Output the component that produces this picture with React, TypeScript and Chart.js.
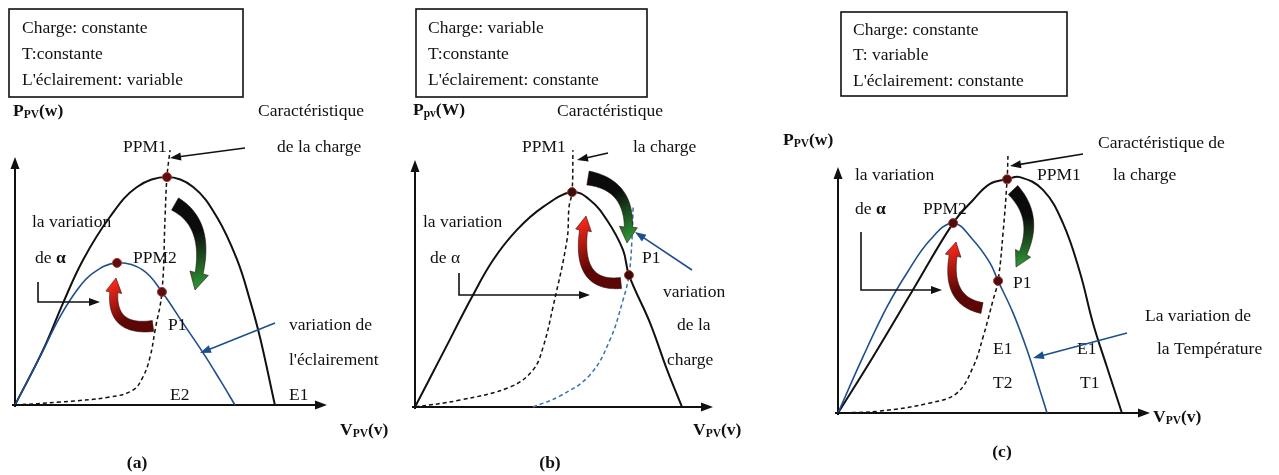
import React, { useEffect, useRef } from "react";
import { Chart, registerables } from "chart.js";

Chart.register(...registerables);

type Pt = [number, number];

// Values are in axis units: 0..100 along V_PV and 0..100 along P_PV.

// (a) constant load and temperature, irradiance changes E1 -> E2
const aCurveE1: Pt[] = [
  [0, 0], [9, 22.2], [15.4, 41.1], [21.8, 58.5], [30.4, 75.8], [39.1, 87.9],
  [48.7, 91.9], [57.1, 87.9], [64.7, 75.8], [71.2, 58.5], [75.3, 42.3], [78.5, 27.4], [83.3, 0],
];
const aCurveE2: Pt[] = [
  [0, 0], [8, 19.4], [14.4, 35.5], [19.9, 46.4], [25, 53.2], [32.7, 57.3],
  [41, 54.4], [47.1, 45.6], [53.8, 33.1], [60.3, 21], [65.7, 10.1], [70.5, 0],
];
const aLoadLine: Pt[] = [
  [0, 0], [14.4, 1.2], [30.4, 3.2], [37.8, 6], [41, 11.3], [43.3, 19.4],
  [44.9, 30.2], [47.1, 45.6], [48.1, 75.8], [48.7, 91.9], [49.7, 102.8],
];
const aPPM1: Pt = [48.7, 91.9];
const aPPM2: Pt = [32.7, 57.3];
const aP1: Pt = [47.1, 45.6];

// (b) variable load, constant temperature and irradiance
const bCurve: Pt[] = [
  [0, 0], [9.4, 21.9], [19.1, 44.5], [26.2, 59.5], [34.2, 71.7], [43, 81],
  [52.7, 87], [58.7, 83.8], [64.4, 75.7], [69.8, 63.6], [71.8, 53.4], [78.9, 34], [84.6, 15], [89.6, 0],
];
const bLoad1: Pt[] = [
  [0, 0], [15.1, 2.8], [31.9, 8.1], [39.6, 15], [43, 24.3], [46.3, 40.5],
  [51, 67.6], [51.7, 81], [52.7, 87], [53, 104],
];
const bLoad2: Pt[] = [
  [39.6, 0], [48.7, 4.5], [58.7, 13], [65.4, 27.1], [69.8, 43.3], [71.8, 53.4],
  [72.8, 67.6], [73.2, 81],
];
const bPPM1: Pt = [52.7, 87];
const bP1: Pt = [71.8, 53.4];

// (c) constant load and irradiance, temperature changes T1 -> T2
const cCurveT1: Pt[] = [
  [0, 0], [11.2, 22.8], [24, 50], [36.9, 77.2], [43.3, 86.6], [48.7, 93.1],
  [54.2, 95], [58.3, 95.9], [65.7, 90.7], [72.1, 77.2], [77.6, 56.9], [81.7, 36.6], [86.2, 18.7], [91, 0],
];
const cCurveT2: Pt[] = [
  [0, 0], [8, 22.8], [15.7, 43.1], [22.1, 56.9], [29.5, 70.3], [36.9, 77.2],
  [43.3, 70.3], [48.7, 61], [51.3, 53.7], [56.1, 40.7], [60.6, 25.6], [64.7, 9.3], [67, 0],
];
const cLoadLine: Pt[] = [
  [0, 0], [13.5, 0.8], [29.5, 4.1], [38.1, 8.1], [43.3, 18.7], [46.5, 30.9],
  [49.7, 45.9], [51.3, 53.7], [52.9, 73.2], [54.2, 95], [54.5, 105.7],
];
const cPPM1: Pt = [54.2, 95];
const cPPM2: Pt = [36.9, 77.2];
const cP1: Pt = [51.3, 53.7];

const FONT = '"Liberation Serif", "Times New Roman", serif';
const FS = 17.5;
const INK = "#111";
const BLUE = "#1d4f8f";

type Seg = { t: string; b?: boolean; sub?: boolean };
type Label = { x: number; y: number; s: Seg[] | string; center?: boolean };
type XY = [number, number];
type Arrow = { pts: XY[]; color?: string };
type Bend = { p0: XY; c: XY; tip: XY; w0: number; w1: number; hw: number; hl: number; from: string; to: string };
type Deco = {
  box: [number, number, number, number];
  boxLines: string[];
  boxX: number;
  boxY: number[];
  labels: Label[];
  arrows: Arrow[];
  bends: Bend[];
};

const axisP = (pv: string, w: string): Seg[] => [{ t: "P", b: true }, { t: pv, b: true, sub: true }, { t: w, b: true }];
const axisV: Seg[] = [{ t: "V", b: true }, { t: "PV", b: true, sub: true }, { t: "(v)", b: true }];

function drawLabel(ctx: CanvasRenderingContext2D, l: Label) {
  const segs: Seg[] = typeof l.s === "string" ? [{ t: l.s }] : l.s;
  const fontOf = (s: Seg) => `${s.b ? "bold " : ""}${s.sub ? 11.5 : FS}px ${FONT}`;
  let total = 0;
  const widths = segs.map((s) => {
    ctx.font = fontOf(s);
    const w = ctx.measureText(s.t).width;
    total += w;
    return w;
  });
  let x = l.center ? l.x - total / 2 : l.x;
  ctx.fillStyle = INK;
  ctx.textBaseline = "middle";
  ctx.textAlign = "left";
  segs.forEach((s, i) => {
    ctx.font = fontOf(s);
    ctx.fillText(s.t, x, l.y + (s.sub ? 4 : 0));
    x += widths[i];
  });
}

function arrowHead(ctx: CanvasRenderingContext2D, fx: number, fy: number, tx: number, ty: number, len: number, wid: number) {
  const a = Math.atan2(ty - fy, tx - fx);
  const c = Math.cos(a), s = Math.sin(a);
  ctx.beginPath();
  ctx.moveTo(tx, ty);
  ctx.lineTo(tx - len * c + (wid / 2) * s, ty - len * s - (wid / 2) * c);
  ctx.lineTo(tx - len * c - (wid / 2) * s, ty - len * s + (wid / 2) * c);
  ctx.closePath();
  ctx.fill();
}

function drawArrow(ctx: CanvasRenderingContext2D, a: Arrow) {
  const color = a.color || INK;
  const p = a.pts;
  const n = p.length;
  const [fx, fy] = p[n - 2];
  const [tx, ty] = p[n - 1];
  const d = Math.hypot(tx - fx, ty - fy);
  const ex = tx - ((tx - fx) / d) * 7;
  const ey = ty - ((ty - fy) / d) * 7;
  ctx.save();
  ctx.strokeStyle = color;
  ctx.fillStyle = color;
  ctx.lineWidth = 1.6;
  ctx.beginPath();
  ctx.moveTo(p[0][0], p[0][1]);
  for (let i = 1; i < n - 1; i++) ctx.lineTo(p[i][0], p[i][1]);
  ctx.lineTo(ex, ey);
  ctx.stroke();
  arrowHead(ctx, fx, fy, tx, ty, 11, 8);
  ctx.restore();
}

function drawBend(ctx: CanvasRenderingContext2D, b: Bend) {
  const N = 40;
  const q = (t: number): XY => {
    const u = 1 - t;
    return [
      u * u * b.p0[0] + 2 * u * t * b.c[0] + t * t * b.tip[0],
      u * u * b.p0[1] + 2 * u * t * b.c[1] + t * t * b.tip[1],
    ];
  };
  let tb = 0.7;
  for (let i = N * 4; i >= 0; i--) {
    const t = i / (N * 4);
    const p = q(t);
    if (Math.hypot(b.tip[0] - p[0], b.tip[1] - p[1]) >= b.hl) {
      tb = t;
      break;
    }
  }
  const left: XY[] = [];
  const right: XY[] = [];
  for (let i = 0; i <= N; i++) {
    const t = (tb * i) / N;
    const p = q(t);
    const dx = 2 * (1 - t) * (b.c[0] - b.p0[0]) + 2 * t * (b.tip[0] - b.c[0]);
    const dy = 2 * (1 - t) * (b.c[1] - b.p0[1]) + 2 * t * (b.tip[1] - b.c[1]);
    const L = Math.hypot(dx, dy) || 1;
    const nx = -dy / L, ny = dx / L;
    const w = b.w0 + ((b.w1 - b.w0) * i) / N;
    left.push([p[0] + (nx * w) / 2, p[1] + (ny * w) / 2]);
    right.push([p[0] - (nx * w) / 2, p[1] - (ny * w) / 2]);
  }
  const base = q(tb);
  const dL = Math.hypot(b.tip[0] - base[0], b.tip[1] - base[1]) || 1;
  const ux = (b.tip[0] - base[0]) / dL, uy = (b.tip[1] - base[1]) / dL;
  const nx = -uy, ny = ux;
  ctx.save();
  const g = ctx.createLinearGradient(b.p0[0], b.p0[1], b.tip[0], b.tip[1]);
  g.addColorStop(0, b.from);
  g.addColorStop(0.35, b.from);
  g.addColorStop(1, b.to);
  ctx.beginPath();
  ctx.moveTo(left[0][0], left[0][1]);
  for (let i = 1; i < left.length; i++) ctx.lineTo(left[i][0], left[i][1]);
  ctx.lineTo(base[0] + (nx * b.hw) / 2, base[1] + (ny * b.hw) / 2);
  ctx.lineTo(b.tip[0], b.tip[1]);
  ctx.lineTo(base[0] - (nx * b.hw) / 2, base[1] - (ny * b.hw) / 2);
  for (let i = right.length - 1; i >= 0; i--) ctx.lineTo(right[i][0], right[i][1]);
  ctx.closePath();
  ctx.fillStyle = g;
  ctx.fill();
  ctx.lineWidth = 0.8;
  ctx.strokeStyle = "rgba(40,10,10,0.7)";
  ctx.stroke();
  ctx.restore();
}

function makeDiagramPlugin(deco: Deco) {
  return {
    id: "pvDiagram",
    beforeDatasetsDraw(chart: Chart) {
      const ctx = chart.ctx;
      const xs = chart.scales.x;
      const ys = chart.scales.y;
      const x0 = xs.getPixelForValue(0);
      const y0 = ys.getPixelForValue(0);
      const x1 = xs.getPixelForValue(100);
      const y1 = ys.getPixelForValue(100);
      ctx.save();
      ctx.strokeStyle = INK;
      ctx.fillStyle = INK;
      ctx.lineWidth = 2;
      ctx.beginPath();
      ctx.moveTo(x0 - 3, y0);
      ctx.lineTo(x1 - 8, y0);
      ctx.moveTo(x0, y0 + 2);
      ctx.lineTo(x0, y1 + 8);
      ctx.stroke();
      arrowHead(ctx, x0, y0, x1, y0, 12, 9);
      arrowHead(ctx, x0, y0, x0, y1, 12, 9);
      ctx.restore();
    },
    afterDatasetsDraw(chart: Chart) {
      const ctx = chart.ctx;
      ctx.save();
      const [bx, by, bw, bh] = deco.box;
      ctx.strokeStyle = INK;
      ctx.lineWidth = 1.6;
      ctx.strokeRect(bx, by, bw, bh);
      deco.boxLines.forEach((t, i) => drawLabel(ctx, { x: deco.boxX, y: deco.boxY[i], s: t }));
      deco.labels.forEach((l) => drawLabel(ctx, l));
      deco.arrows.forEach((a) => drawArrow(ctx, a));
      deco.bends.forEach((b) => drawBend(ctx, b));
      ctx.restore();
    },
  };
}

const toXY = (pts: Pt[]) => pts.map(([x, y]) => ({ x, y }));

function curve(pts: Pt[], color: string, width: number, dash: number[] = []) {
  return {
    data: toXY(pts),
    showLine: true,
    borderColor: color,
    borderWidth: width,
    borderDash: dash,
    pointRadius: 0,
    tension: 0.4,
    fill: false,
    clip: false as const,
  };
}

function dots(pts: Pt[], fill: string) {
  return {
    data: toXY(pts),
    showLine: false,
    pointRadius: 4.5,
    pointBackgroundColor: fill,
    pointBorderColor: "#b0302a",
    pointBorderWidth: 1,
    clip: false as const,
  };
}

type Panel = {
  left: number;
  width: number;
  pad: { left: number; right: number; top: number; bottom: number };
  datasets: any[];
  deco: Deco;
};

const panels: Panel[] = [
  {
    left: 0,
    width: 400,
    pad: { left: 15, right: 73, top: 157, bottom: 70 },
    datasets: [
      dots([aPPM1, aPPM2, aP1], "#5a1010"),
      curve(aLoadLine, INK, 1.5, [4, 3]),
      curve(aCurveE2, BLUE, 1.6),
      curve(aCurveE1, INK, 2),
    ],
    deco: {
      box: [9, 9, 234, 88],
      boxLines: ["Charge: constante", "T:constante", "L'éclairement: variable"],
      boxX: 22,
      boxY: [28, 54, 80],
      labels: [
        { x: 13, y: 111, s: axisP("PV", "(w)") },
        { x: 258, y: 111, s: "Caractéristique" },
        { x: 277, y: 147, s: "de la charge" },
        { x: 123, y: 147, s: "PPM1" },
        { x: 32, y: 222, s: "la variation" },
        { x: 35, y: 258, s: [{ t: "de " }, { t: "α", b: true }] },
        { x: 133, y: 258, s: "PPM2" },
        { x: 168, y: 325, s: "P1" },
        { x: 289, y: 325, s: "variation de" },
        { x: 289, y: 360, s: "l'éclairement" },
        { x: 170, y: 395, s: "E2" },
        { x: 289, y: 395, s: "E1" },
        { x: 340, y: 430, s: axisV },
        { x: 137, y: 463, s: [{ t: "(a)", b: true }], center: true },
      ],
      arrows: [
        { pts: [[245, 148], [170, 158]] },
        { pts: [[38, 282], [38, 302], [100, 302]] },
        { pts: [[275, 323], [200, 353]], color: BLUE },
      ],
      bends: [
        { p0: [175, 204], c: [214, 226], tip: [195, 290], w0: 14, w1: 8, hw: 19, hl: 17, from: "#0b0b0b", to: "#2f9a35" },
        { p0: [153, 326], c: [104, 332], tip: [116, 278], w0: 11, w1: 8, hw: 16, hl: 14, from: "#5c0606", to: "#ff2a1a" },
      ],
    },
  },
  {
    left: 400,
    width: 370,
    pad: { left: 15, right: 57, top: 160, bottom: 68 },
    datasets: [
      dots([bPPM1, bP1], "#3a0c0c"),
      curve(bLoad1, INK, 1.5, [4, 3]),
      curve(bLoad2, "#3c6fae", 1.5, [4, 3]),
      curve(bCurve, INK, 2),
    ],
    deco: {
      box: [16, 9, 231, 88],
      boxLines: ["Charge: variable", "T:constante", "L'éclairement: constante"],
      boxX: 28,
      boxY: [28, 54, 80],
      labels: [
        { x: 13, y: 110, s: axisP("pv", "(W)") },
        { x: 157, y: 111, s: "Caractéristique" },
        { x: 122, y: 147, s: "PPM1" },
        { x: 233, y: 147, s: "la charge" },
        { x: 23, y: 222, s: "la variation" },
        { x: 30, y: 258, s: "de α" },
        { x: 242, y: 258, s: "P1" },
        { x: 263, y: 292, s: "variation" },
        { x: 277, y: 325, s: "de la" },
        { x: 267, y: 360, s: "charge" },
        { x: 293, y: 430, s: axisV },
        { x: 150, y: 463, s: [{ t: "(b)", b: true }], center: true },
      ],
      arrows: [
        { pts: [[208, 153], [177, 160]] },
        { pts: [[59, 273], [59, 295], [190, 295]] },
        { pts: [[292, 270], [235, 232]], color: BLUE },
      ],
      bends: [
        { p0: [188, 178], c: [236, 186], tip: [227, 243], w0: 14, w1: 8, hw: 18, hl: 16, from: "#0b0b0b", to: "#2f9a35" },
        { p0: [221, 283], c: [171, 288], tip: [186, 216], w0: 11, w1: 8, hw: 16, hl: 14, from: "#5c0606", to: "#ff2a1a" },
      ],
    },
  },
  {
    left: 770,
    width: 509,
    pad: { left: 68, right: 129, top: 167, bottom: 62 },
    datasets: [
      dots([cPPM1, cPPM2, cP1], "#4a0e0e"),
      curve(cLoadLine, INK, 1.5, [4, 3]),
      curve(cCurveT2, BLUE, 1.6),
      curve(cCurveT1, INK, 2),
    ],
    deco: {
      box: [71, 12, 226, 84],
      boxLines: ["Charge: constante", "T: variable", "L'éclairement: constante"],
      boxX: 83,
      boxY: [30, 55, 81],
      labels: [
        { x: 13, y: 140, s: axisP("PV", "(w)") },
        { x: 328, y: 143, s: "Caractéristique de" },
        { x: 343, y: 175, s: "la charge" },
        { x: 267, y: 175, s: "PPM1" },
        { x: 85, y: 175, s: "la variation" },
        { x: 85, y: 209, s: [{ t: "de " }, { t: "α", b: true }] },
        { x: 153, y: 209, s: "PPM2" },
        { x: 243, y: 283, s: "P1" },
        { x: 375, y: 316, s: "La variation de" },
        { x: 387, y: 349, s: "la Température" },
        { x: 223, y: 349, s: "E1" },
        { x: 223, y: 383, s: "T2" },
        { x: 307, y: 349, s: "E1" },
        { x: 310, y: 383, s: "T1" },
        { x: 383, y: 417, s: axisV },
        { x: 232, y: 452, s: [{ t: "(c)", b: true }], center: true },
      ],
      arrows: [
        { pts: [[313, 154], [240, 166]] },
        { pts: [[91, 232], [91, 290], [172, 290]] },
        { pts: [[357, 333], [263, 358]], color: BLUE },
      ],
      bends: [
        { p0: [243, 190], c: [273, 222], tip: [246, 267], w0: 13, w1: 8, hw: 17, hl: 15, from: "#0b0b0b", to: "#2f9a35" },
        { p0: [212, 308], c: [171, 300], tip: [186, 242], w0: 11, w1: 8, hw: 16, hl: 14, from: "#5c0606", to: "#ff2a1a" },
      ],
    },
  },
];

function PanelChart({ panel }: { panel: Panel }) {
  const ref = useRef<HTMLCanvasElement | null>(null);
  useEffect(() => {
    if (!ref.current) return;
    const chart = new Chart(ref.current, {
      type: "scatter",
      data: { datasets: panel.datasets },
      options: {
        responsive: false,
        animation: false,
        events: [],
        layout: { padding: panel.pad },
        scales: {
          x: { type: "linear", min: 0, max: 100, display: false },
          y: { type: "linear", min: 0, max: 100, display: false },
        },
        plugins: { legend: { display: false }, tooltip: { enabled: false } },
      },
      plugins: [makeDiagramPlugin(panel.deco)],
    } as any);
    return () => chart.destroy();
  }, [panel]);
  return (
    <canvas
      ref={ref}
      width={panel.width}
      height={475}
      style={{ position: "absolute", left: panel.left, top: 0, width: panel.width, height: 475 }}
    />
  );
}

export default function App() {
  return (
    <div style={{ position: "fixed", left: 0, top: 0, width: 1279, height: 475, background: "#fff", overflow: "hidden" }}>
      {panels.map((p, i) => (
        <PanelChart key={i} panel={p} />
      ))}
    </div>
  );
}
